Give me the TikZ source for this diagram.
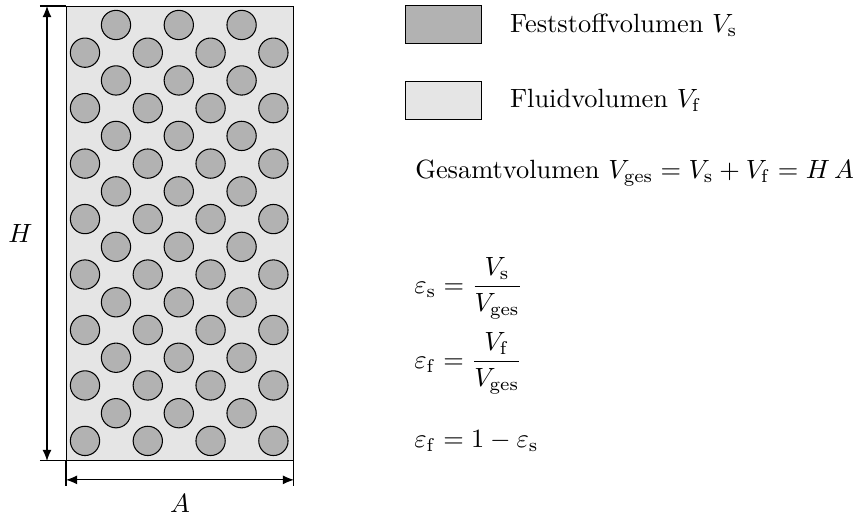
\documentclass[tikz,border=0pt]{standalone}
\usepackage{amsmath,amssymb}
\usepackage{tikz}
\usetikzlibrary{arrows.meta,positioning,calc}

\begin{document}
\begin{tikzpicture}[
    x=0.379pt, y=-0.379pt,
    fluid/.style={draw, fill=black!10, inner sep=0pt},
    grain/.style={circle, draw, fill=black!30, minimum size=11.1pt, inner sep=0pt},
    legendbox/.style={draw, minimum width=28.8pt, minimum height=14.3pt, inner sep=0pt},
    dim/.style={{Latex[length=4.2pt,width=3.4pt]}-{Latex[length=4.2pt,width=3.4pt]}}
]
\useasboundingbox (0,0) rectangle (858,515);

% Schüttung
\node[fluid, minimum width=86pt, minimum height=172pt, anchor=north west] (bed) at (66,6) {};
\foreach \r in {0,...,7} {
    \foreach \c in {0,...,2}
        \node[grain] (o\r\c) at (116+62.8*\c, 25+55.46*\r) {};
    \foreach \c in {0,...,3}
        \node[grain] (e\r\c) at (85+62.8*\c, 52.7+55.46*\r) {};
}

% Bemaßung
\coordinate (hs) at ($(bed.north west)+(-26,0)$);
\coordinate (hb) at ($(bed.south west)+(-26,0)$);
\coordinate (al) at ($(bed.south west)+(0,25)$);
\coordinate (ar) at ($(bed.south east)+(0,25)$);
\draw (hs) -- (bed.north west);
\draw (hb) -- (bed.south west);
\draw (al) -- (bed.south west);
\draw (ar) -- (bed.south east);
\draw[dim] ($(hs)+(7,0)$) -- ($(hb)+(7,0)$) node[midway, left=2pt] {$H$};
\draw[dim] ($(al)+(0,-6)$) -- ($(ar)+(0,-6)$) node[midway, below=2pt] {$A$};

% Legende
\node[legendbox, fill=black!30] (solidbox) at (443.7,24.8) {};
\node[legendbox, fill=black!10] (fluidbox) at (443.7,100.5) {};
\node[right=7pt of solidbox] (solidtext) {Feststoffvolumen $V_\mathrm{s}$};
\node[right=7pt of fluidbox] (fluidtext) {Fluidvolumen $V_\mathrm{f}$};

\node[anchor=west] (gesamt) at (406,173)
    {Gesamtvolumen $V_\mathrm{ges} = V_\mathrm{s} + V_\mathrm{f} = H\,A$};

\node[anchor=west] (epss) at (405,288)
    {$\displaystyle \varepsilon_\mathrm{s} = \frac{V_\mathrm{s}}{V_\mathrm{ges}}$};
\node[anchor=west] (epsf) at (405,363)
    {$\displaystyle \varepsilon_\mathrm{f} = \frac{V_\mathrm{f}}{V_\mathrm{ges}}$};
\node[anchor=west] (epsrel) at (405,441)
    {$\varepsilon_\mathrm{f} = 1 - \varepsilon_\mathrm{s}$};

\end{tikzpicture}
\end{document}
